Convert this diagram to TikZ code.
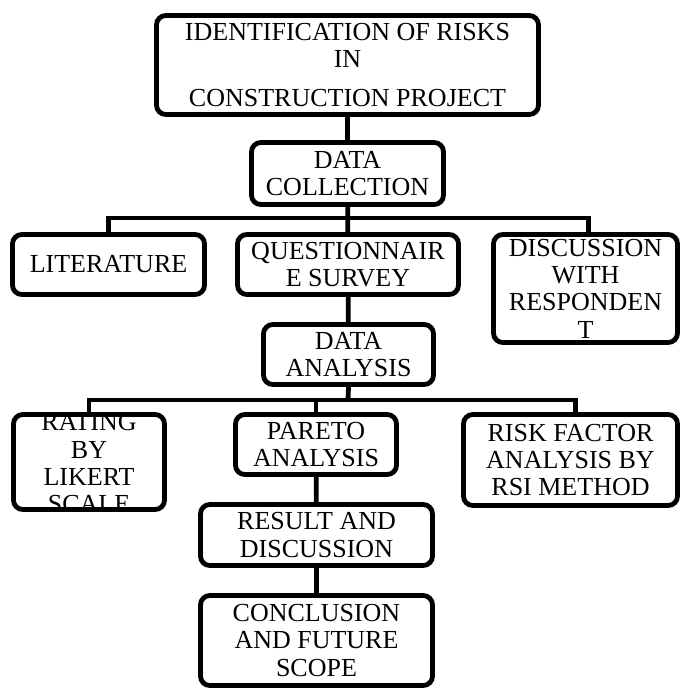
\documentclass[tikz,border=0pt]{standalone}
\usepackage{fontspec}
\setmainfont{Liberation Serif}
\newcommand\boxfont{\fontsize{19.5}{20.5}\selectfont}

\begin{document}
\begin{tikzpicture}[x=0.75pt, y=-0.75pt,
	box/.style={draw, line width=3.6pt, rounded corners=7pt, inner sep=0pt, align=center, font=\boxfont},
	link/.style={line width=3.6pt}]
				\useasboundingbox (0,0) rectangle (682,690);
				
				\node[box, minimum width=286.5pt, minimum height=74.25pt] (ident) at (347.5,65) {IDENTIFICATION OF RISKS\\ IN\\[9pt] CONSTRUCTION PROJECT};
				\node[box, minimum width=144pt, minimum height=46.5pt] (collect) at (347.5,173.5) {DATA\\ COLLECTION};
				
				\node[box, minimum width=144pt, minimum height=45pt] (lit) at (108.5,264.5) {LITERATURE};
				\node[box, minimum width=165.75pt, minimum height=45pt] (quest) at (348,264.5) {QUESTIONNAIR\\ E SURVEY};
				\node[box, minimum width=138pt, minimum height=81pt] (disc) at (585.5,288.5) {DISCUSSION\\ WITH\\ RESPONDEN\\ T};
				
				\node[box, minimum width=127.5pt, minimum height=45pt] (analysis) at (348.5,354.5) {DATA\\ ANALYSIS};
				
				\node[box, minimum width=113.25pt, minimum height=71.25pt,
					path picture={\node[align=center, font=\boxfont] at ([yshift=-1pt]path picture bounding box.center) {RATING\\ BY\\ LIKERT\\ SCALE};}] (rating) at (89,462) {};
				\node[box, minimum width=120.75pt, minimum height=45pt] (pareto) at (316,444.5) {PARETO\\ ANALYSIS};
				\node[box, minimum width=160.5pt, minimum height=68.25pt] (rsi) at (570.5,460) {RISK FACTOR\\ ANALYSIS BY\\ RSI METHOD};
				
				\node[box, minimum width=174pt, minimum height=45.75pt] (result) at (316.5,535) {RESULT AND\\ DISCUSSION};
				\node[box, minimum width=174pt, minimum height=67.5pt] (concl) at (316.5,640.5) {CONCLUSION\\ AND FUTURE\\ SCOPE};
				
				\coordinate (j1) at (347.5,218);
				\coordinate (j2) at (348,400);
				
				\draw[link] (ident) -- (collect);
				\draw[link] (collect) -- (quest);
				\draw[link] (lit.north) |- (j1) -| ([xshift=2pt]disc.north);
				
				\draw[link] (quest) -- (analysis);
				\draw[link] (analysis.south) -- (j2);
				\draw[link] (rating.north) |- (j2) -| ([xshift=4pt]rsi.north);
				\draw[link] (j2 -| pareto.north) -- (pareto.north);
				
				\draw[link] (pareto) -- (result);
				\draw[link] (result) -- (concl);
\end{tikzpicture}
\end{document}
